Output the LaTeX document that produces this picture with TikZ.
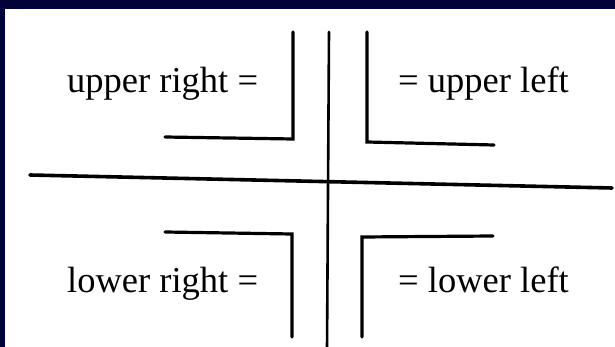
\documentclass[tikz,border=0pt]{standalone}
\usepackage{fontspec}
\setmainfont{Liberation Serif}
\usepackage{tikz}
\usetikzlibrary{positioning}
\definecolor{navy}{RGB}{2,2,58}

\begin{document}
\begin{tikzpicture}[x=1pt, y=-1pt,
        lbl/.style={font=\fontsize{36.5}{40}\selectfont, inner sep=0pt, anchor=base west},
        stroke/.style={line width=3.2pt, line cap=round, line join=miter}]
    \fill[navy] (0,0) rectangle (615,347);
    \fill[white] (5,9) rectangle (615,347);
    \useasboundingbox (0,0) rectangle (615,347);
    % corners
    \draw[stroke] (165,137) -- (293,139) -- (293,32);
    \draw[stroke] (494,145) -- (367,142) -- (367,32);
    \draw[stroke] (165,232) -- (292,234) -- (292,337);
    \draw[stroke] (493,236) -- (362,237) -- (362,337);
    % axes
    \draw[stroke, line width=3.6pt] (30,175) -- (612,188);
    \draw[stroke, line width=2.6pt] (329,32) -- (327,350);
    % labels
    \node[lbl] (ur) at (67,93) {upper right =};
    \node[lbl] (ul) at (398,93) {= upper left};
    \node[lbl] (lr) at (67,292) {lower right =};
    \node[lbl] (ll) at (398,292) {= lower left};
\end{tikzpicture}
\end{document}
